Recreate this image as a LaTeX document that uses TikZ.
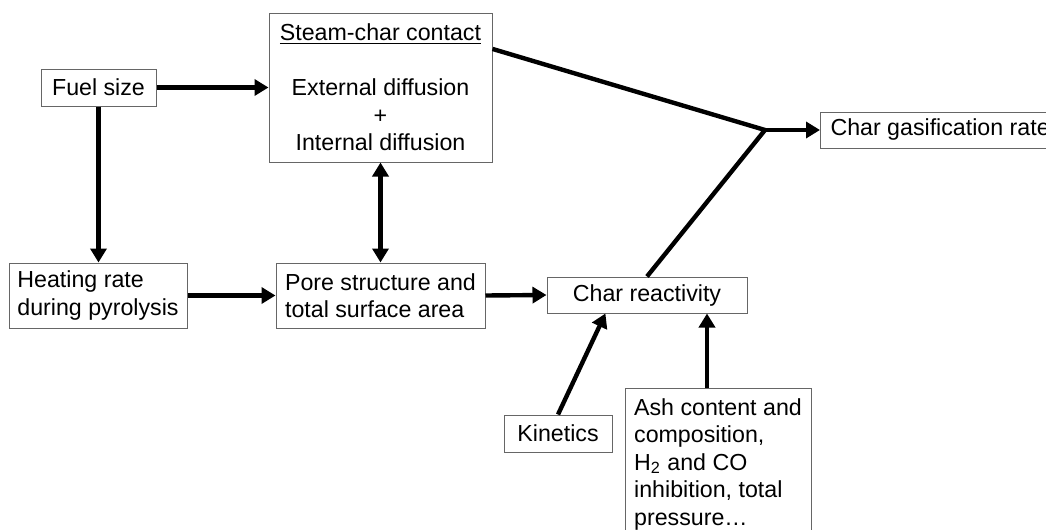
\documentclass[tikz,border=0pt]{standalone}
\usepackage{fontspec}
\setmainfont{Liberation Sans}
\usetikzlibrary{arrows.meta}

\begin{document}
\begin{tikzpicture}[x=0.5pt, y=-0.5pt, ->, >={Triangle[length=7pt, width=8pt]}, line width=2.2pt, box node/.style={draw=black!60, line width=0.5pt, inner sep=0pt, font=\fontsize{11.6pt}{13.75pt}\selectfont}, every node/.style={text=black}]
\useasboundingbox (0,0) rectangle (1046,530);

\node [box node, minimum width=57.5pt, minimum height=18.5pt] (fuel) at (98.5,87.5) {Fuel size};
\node [box node, minimum width=111.5pt, minimum height=74.5pt, align=center] (steam) at (380.5,87.5) {\underline{Steam-char contact}\\[13.75pt]External diffusion\\+\\Internal diffusion};
\node [box node, anchor=west, minimum height=18pt, inner xsep=5pt] (gasrate) at (820,130) {Char gasification rate};
\node [box node, minimum width=89pt, minimum height=32.5pt, align=left] (heat) at (98,295.5) {Heating rate\\during pyrolysis};
\node [box node, minimum width=104.5pt, minimum height=32.5pt, align=left] (pore) at (380.5,295.5) {Pore structure and\\total surface area};
\node [box node, minimum width=100pt, minimum height=18pt] (react) at (647,295) {Char reactivity};
\node [box node, minimum width=54pt, minimum height=18.5pt] (kin) at (558,433.5) {Kinetics};
\node [box node, anchor=north, minimum width=93pt, inner ysep=5pt, align=left] (ash) at (718,388) {Ash content and\\composition,\\H\textsubscript{2} and CO\\inhibition, total\\pressure…};

\coordinate (join) at (765,130);

\draw (fuel.east) -- (steam.west);
\draw (fuel.south) -- (fuel.south |- heat.north);
\draw [<->] (steam.south) -- (pore.north);
\draw (heat.east) -- (pore.west);
\draw (pore.east) -- (react.west);
\draw [-] (steam.19.5) -- (join) -- (react.north);
\draw (join) -- (gasrate.west);
\draw (kin.north) -- (react.204.2);
\draw ([xshift=-5.5pt]ash.north) -- ([xshift=-5.5pt]ash.north |- react.south);
\end{tikzpicture}
\end{document}
